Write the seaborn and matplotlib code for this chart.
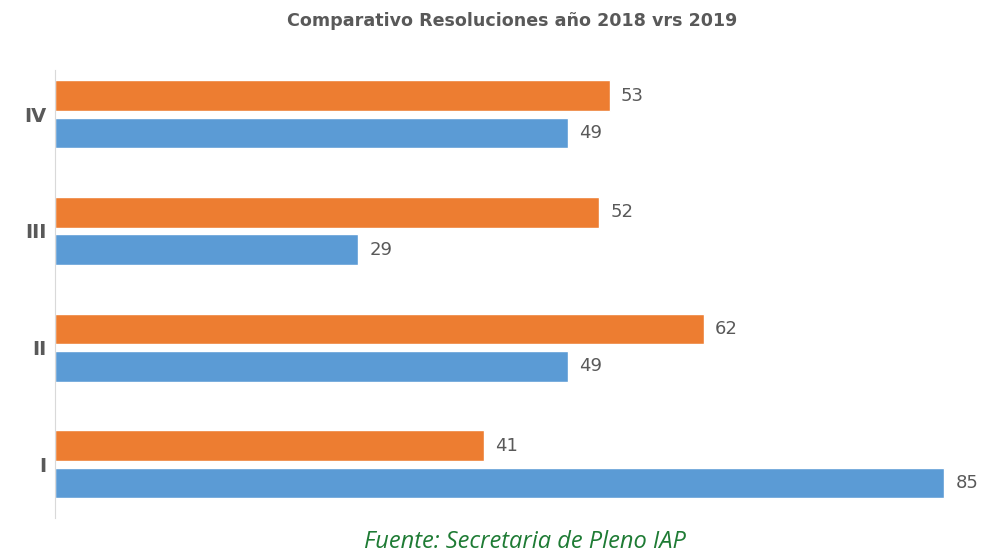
import pandas as pd
import matplotlib.pyplot as plt
import seaborn as sns

quarters = ["IV", "III", "II", "I"]
values_2019 = [53, 52, 62, 41]
values_2018 = [49, 29, 49, 85]

df = pd.DataFrame({
    "trimestre": quarters * 2,
    "anio": ["2019"] * 4 + ["2018"] * 4,
    "valor": values_2019 + values_2018,
})

sns.set_style("white")
plt.rcParams["font.family"] = ["DejaVu Sans"]

fig = plt.figure(figsize=(9.84, 5.6), dpi=100)
ax = fig.add_axes([55 / 984, 42 / 560, 905 / 984, 448 / 560])

sns.barplot(
    data=df, y="trimestre", x="valor", hue="anio",
    order=quarters, hue_order=["2019", "2018"],
    palette=["#ED7D31", "#5B9BD5"], saturation=1,
    width=0.64, gap=0.17, orient="h", ax=ax, legend=False,
)

for container in ax.containers:
    ax.bar_label(container, padding=8, fontsize=13, color="#595959")

ax.set_xlim(0, 86.5)
ax.set_ylim(3.46, -0.38)
ax.set_xlabel("")
ax.set_ylabel("")
ax.set_xticks([])
ax.tick_params(axis="y", length=0, pad=6, labelsize=14, labelcolor="#595959")
for lbl in ax.get_yticklabels():
    lbl.set_fontweight("bold")
for s in ["top", "right", "bottom"]:
    ax.spines[s].set_visible(False)
ax.spines["left"].set_color("#D9D9D9")

fig.text(0.52, 0.963, "Comparativo Resoluciones año 2018 vrs 2019",
         ha="center", va="center", fontsize=12.6, fontweight="bold", color="#595959")
fig.text(0.533, 0.033, "Fuente: Secretaria de Pleno IAP", ha="center", va="center",
         fontsize=17, style="italic", color="#1E7B34", family=["Open Sans", "DejaVu Sans"])

fig.savefig("out.png", dpi=100)
